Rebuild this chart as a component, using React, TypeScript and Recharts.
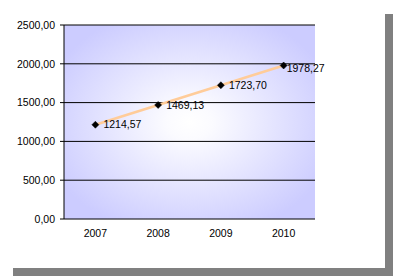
import React from "react";
import {
  LineChart,
  Line,
  XAxis,
  YAxis,
  CartesianGrid,
} from "recharts";

const years = ["2007", "2008", "2009", "2010"];
const values = [1214.57, 1469.13, 1723.7, 1978.27];
const yTicks = [0, 500, 1000, 1500, 2000, 2500];
const edgeTicks = [0, 1, 2, 3, 4];

const data = years.map((year, i) => ({ year, value: values[i] }));

const fmt = (v: number) => v.toFixed(2).replace(".", ",");
const FONT = "'Liberation Sans', Arial, sans-serif";

function Diamond(props: any) {
  const { cx, cy } = props;
  if (cx == null || cy == null) return null;
  const r = 3.5;
  return (
    <polygon
      points={`${cx},${cy - r} ${cx + r},${cy} ${cx},${cy + r} ${cx - r},${cy}`}
      fill="#000"
      stroke="#000"
      strokeWidth={0.5}
    />
  );
}

function ValueLabel(props: any) {
  const { x, y, value, index } = props;
  // Excel nudged the last label back inside the frame
  const last = index === values.length - 1;
  return (
    <text
      x={x + (last ? 3 : 8)}
      y={y + (last ? 3 : 0)}
      dy="0.35em"
      fontSize={10.5}
      fontFamily={FONT}
      fill="#000"
    >
      {fmt(value)}
    </text>
  );
}

export default function App() {
  return (
    <div style={{ position: "absolute", left: 0, top: 0, width: 393, height: 276 }}>
      {/* drop shadow */}
      <div
        style={{
          position: "absolute",
          left: 13,
          top: 14,
          width: 380,
          height: 262,
          background: "#808080",
        }}
      />
      <div
        style={{
          position: "absolute",
          left: 0,
          top: 0,
          width: 385,
          height: 268,
          background: "#fff",
        }}
      >
        <LineChart
          width={385}
          height={268}
          data={data}
          margin={{ top: 25, right: 70, left: 0, bottom: 19 }}
        >
          <defs>
            <radialGradient id="plotBg" cx="50%" cy="50%" r="60%">
              <stop offset="0%" stopColor="#ffffff" />
              <stop offset="15%" stopColor="#fbfbff" />
              <stop offset="100%" stopColor="#ccccff" />
            </radialGradient>
          </defs>
          <CartesianGrid
            vertical={false}
            stroke="#000"
            strokeWidth={1}
            fill="url(#plotBg)"
            fillOpacity={1}
          />
          <XAxis
            xAxisId="edges"
            type="number"
            domain={[0, 4]}
            ticks={edgeTicks}
            allowDataOverflow
            height={0}
            tickSize={4}
            tickFormatter={() => ""}
            axisLine={{ stroke: "#000" }}
            tickLine={{ stroke: "#000" }}
          />
          <XAxis
            xAxisId="cat"
            dataKey="year"
            scale="band"
            height={30}
            axisLine={false}
            tickLine={false}
            tickSize={4}
            tickMargin={7}
            tick={{ fontSize: 10.5, fontFamily: FONT, fill: "#000" }}
          />
          <XAxis
            xAxisId="top"
            orientation="top"
            type="number"
            domain={[0, 4]}
            allowDataOverflow
            height={0}
            tick={false}
            tickLine={false}
            axisLine={{ stroke: "#808080" }}
          />
          <YAxis
            domain={[0, 2500]}
            ticks={yTicks}
            width={64}
            tickSize={4}
            tickMargin={5}
            tickFormatter={fmt}
            axisLine={{ stroke: "#000" }}
            tickLine={{ stroke: "#000" }}
            tick={{ fontSize: 10.5, fontFamily: FONT, fill: "#000" }}
          />
          <YAxis
            yAxisId="right"
            orientation="right"
            domain={[0, 2500]}
            width={0}
            tick={false}
            tickLine={false}
            axisLine={{ stroke: "#808080" }}
          />
          <Line
            xAxisId="cat"
            dataKey="value"
            stroke="#ffcc99"
            strokeWidth={2.5}
            dot={<Diamond />}
            activeDot={false}
            label={<ValueLabel />}
            isAnimationActive={false}
          />
        </LineChart>
      </div>
    </div>
  );
}
